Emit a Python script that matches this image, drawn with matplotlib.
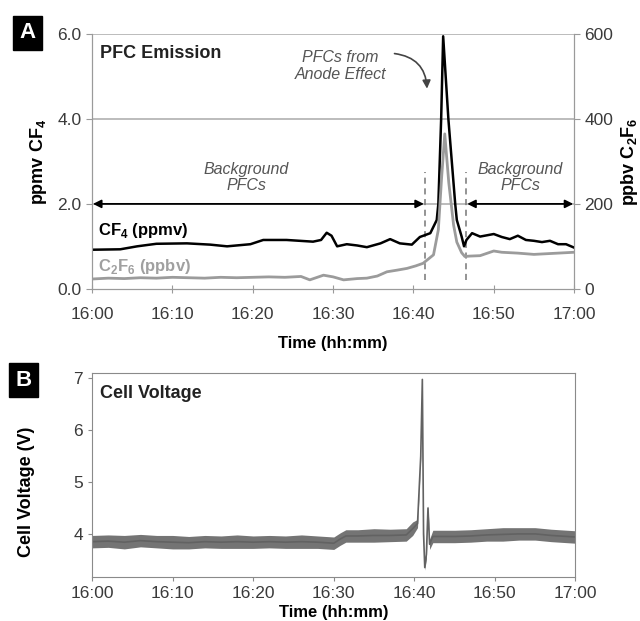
import matplotlib
matplotlib.use("Agg")
import matplotlib.pyplot as plt

plt.rcParams["font.family"] = ["Liberation Sans", "DejaVu Sans"]
plt.rcParams["mathtext.fontset"] = "custom"
plt.rcParams["mathtext.rm"] = "Liberation Sans"
plt.rcParams["mathtext.bf"] = "Liberation Sans:bold"

# minutes after 16:00
cf4_t = [0, 3.5, 5.6, 8, 11.8, 14.7, 16.8, 19.7, 21.3, 24.2, 27.5, 28.5, 29.2, 29.8,
         30.5, 31.7, 33, 34.2, 35.9, 37.1, 38.3, 39.8, 40.8, 42.1, 42.9, 43.1, 43.45,
         43.7, 44.35, 45.2, 45.4, 46.0, 46.3, 46.6, 47.3, 48.3, 50, 51, 52, 53, 54,
         55, 56, 57, 58, 59, 60]
cf4_ppmv = [0.92, 0.93, 1.0, 1.06, 1.07, 1.04, 1.0, 1.05, 1.15, 1.15, 1.11, 1.15, 1.32,
            1.25, 1.0, 1.05, 1.02, 0.98, 1.07, 1.17, 1.07, 1.04, 1.22, 1.31, 1.62, 2.0,
            4.0, 5.95, 4.0, 2.0, 1.62, 1.23, 1.0, 1.15, 1.31, 1.23, 1.29, 1.22, 1.17,
            1.25, 1.15, 1.13, 1.1, 1.13, 1.05, 1.05, 0.97]

c2f6_t = [0, 2, 4, 6, 8, 10, 12, 14, 16, 18, 20, 22, 24, 26, 27.1, 28.8, 30, 31.3, 33,
          34.2, 35.5, 36.7, 38, 39.2, 40.3, 41.2, 42.5, 43.1, 43.5, 43.9, 44.4, 45.0,
          45.4, 46.0, 46.4, 47, 48.3, 50, 51, 53, 55, 57, 59, 60]
c2f6_ppbv = [23, 25, 24, 26, 25, 27, 26, 25, 27, 26, 27, 28, 27, 29, 21, 32, 28, 21, 24,
             25, 30, 40, 44, 48, 54, 60, 80, 139, 260, 365, 250, 150, 110, 85, 76, 77,
             78, 89, 86, 84, 81, 83, 85, 86]

volt_t = [0, 2, 4, 6, 8, 10, 12, 14, 16, 18, 20, 22, 24, 26, 28, 30, 30.8, 31.5, 33,
          35, 37, 39, 39.8, 40.4, 40.8, 41.0, 41.15, 41.3, 41.5, 41.7, 41.9, 42.3, 43,
          45, 47, 49, 51, 53, 55, 57, 59, 60]
volt_mid = [3.85, 3.86, 3.84, 3.87, 3.85, 3.84, 3.83, 3.85, 3.84, 3.85, 3.84, 3.85, 3.84,
            3.85, 3.84, 3.82, 3.90, 3.96, 3.96, 3.97, 3.97, 3.98, 4.10, 4.2, 5.5, 6.98,
            4.0, 3.35, 3.6, 4.5, 3.8, 3.95, 3.95, 3.95, 3.96, 3.98, 3.99, 4.0, 4.0, 3.97,
            3.95, 3.94]
volt_half = [0.12, 0.12, 0.13, 0.12, 0.12, 0.13, 0.12, 0.12, 0.12, 0.13, 0.12, 0.12,
             0.12, 0.13, 0.12, 0.12, 0.12, 0.12, 0.12, 0.13, 0.12, 0.12, 0.13, 0.08, 0.04,
             0.02, 0.05, 0.05, 0.08, 0.05, 0.1, 0.12, 0.12, 0.12, 0.12, 0.12, 0.13, 0.12,
             0.12, 0.12, 0.12, 0.12]

xticks = [0, 10, 20, 30, 40, 50, 60]
xlabels = ["16:00", "16:10", "16:20", "16:30", "16:40", "16:50", "17:00"]

axis_gray = "#9a9a9a"
text_gray = "#3a3a3a"

fig = plt.figure(figsize=(6.4, 6.21), dpi=100)

# ---- panel A
ax = fig.add_axes([0.144, 0.535, 0.753, 0.41])
ax2 = ax.twinx()
ax.set_xlim(0, 60)
ax.set_ylim(0, 6)
ax2.set_ylim(0, 600)
for y in [2, 4, 6]:
    ax.axhline(y, color="#b0b0b0", lw=1.2, zorder=0)
ax.plot(cf4_t, cf4_ppmv, color="black", lw=1.8, zorder=4)
ax2.plot(c2f6_t, c2f6_ppbv, color="#9b9b9b", lw=2.0, zorder=3)

for s in ["top"]:
    ax.spines[s].set_visible(False)
    ax2.spines[s].set_visible(False)
for s in ["left", "bottom", "right"]:
    ax.spines[s].set_color(axis_gray)
    ax2.spines[s].set_color(axis_gray)
ax.set_xticks(xticks)
ax.set_xticklabels(xlabels)
ax.set_yticks([0, 2, 4, 6])
ax.set_yticklabels(["0.0", "2.0", "4.0", "6.0"])
ax2.set_yticks([0, 200, 400, 600])
for a in (ax, ax2):
    a.tick_params(colors=axis_gray, labelcolor=text_gray, labelsize=12.5, length=4,
                  direction="out")
ax.tick_params(axis="x", direction="inout", length=6, pad=10)

ax.set_ylabel(r"ppmv CF$_\mathbf{4}$", fontsize=13, fontweight="bold", labelpad=6)
ax2.set_ylabel(r"ppbv C$_\mathbf{2}$F$_\mathbf{6}$", fontsize=13, fontweight="bold",
               labelpad=4)
ax.set_xlabel("Time (hh:mm)", fontsize=12, fontweight="bold", labelpad=10)

# arrows, dashed markers and notes
ax.vlines([41.45, 46.5], 0.2, 2.75, colors="#777777", linestyles=(0, (4, 3)), lw=1.1)
arrow_kw = dict(arrowstyle="<|-|>", color="black", lw=1.3, mutation_scale=12,
                shrinkA=0, shrinkB=0)
ax.annotate("", xy=(41.3, 2.0), xytext=(0.1, 2.0), arrowprops=arrow_kw)
ax.annotate("", xy=(59.9, 2.0), xytext=(46.7, 2.0), arrowprops=arrow_kw)
note = dict(fontsize=11.5, style="italic", color="#555555", ha="center", va="center",
            linespacing=1.15)
ax.text(19.2, 2.62, "Background\nPFCs", **note)
ax.text(53.3, 2.62, "Background\nPFCs", **note)
ax.text(30.9, 5.25, "PFCs from\nAnode Effect", **note)
ax.annotate("", xy=(41.7, 4.65), xytext=(37.3, 5.55),
            arrowprops=dict(arrowstyle="-|>", color="#444444", lw=1.2,
                            mutation_scale=12, connectionstyle="arc3,rad=-0.45"))
ax.text(0.017, 0.925, "PFC Emission", transform=ax.transAxes, fontsize=13,
        fontweight="bold", color="#222222", va="center")
ax.text(0.7, 1.37, r"CF$_\mathbf{4}$ (ppmv)", fontsize=12, fontweight="bold",
        color="black", va="center")
ax.text(0.7, 0.52, r"C$_\mathbf{2}$F$_\mathbf{6}$ (ppbv)", fontsize=12,
        fontweight="bold", color="#a0a0a0", va="center")

# ---- panel B
bx = fig.add_axes([0.144, 0.071, 0.755, 0.328])
bx.set_xlim(0, 60)
bx.set_ylim(3.17, 7.1)
lo = [m - h for m, h in zip(volt_mid, volt_half)]
hi = [m + h for m, h in zip(volt_mid, volt_half)]
bx.fill_between(volt_t, lo, hi, color="#747474", lw=0)
bx.plot(volt_t, volt_mid, color="#626262", lw=1.2)
for s in bx.spines.values():
    s.set_color("#8a8a8a")
bx.set_xticks(xticks)
bx.set_xticklabels(xlabels)
bx.set_yticks([4, 5, 6, 7])
bx.tick_params(colors="#8a8a8a", labelcolor=text_gray, labelsize=12.5, length=3,
               direction="out")
bx.set_ylabel("Cell Voltage (V)", fontsize=13, fontweight="bold")
bx.yaxis.set_label_coords(-0.118, 0.42)
bx.set_xlabel("Time (hh:mm)", fontsize=12, fontweight="bold", labelpad=3)
bx.text(0.017, 0.9, "Cell Voltage", transform=bx.transAxes, fontsize=13,
        fontweight="bold", color="#222222", va="center")

# panel letters
box = dict(boxstyle="square,pad=0.28", facecolor="black", edgecolor="black")
fig.text(0.043, 0.947, "A", fontsize=16, fontweight="bold", color="white",
         ha="center", va="center", bbox=box)
fig.text(0.037, 0.388, "B", fontsize=16, fontweight="bold", color="white",
         ha="center", va="center", bbox=box)

fig.savefig("out.png", dpi=100)
